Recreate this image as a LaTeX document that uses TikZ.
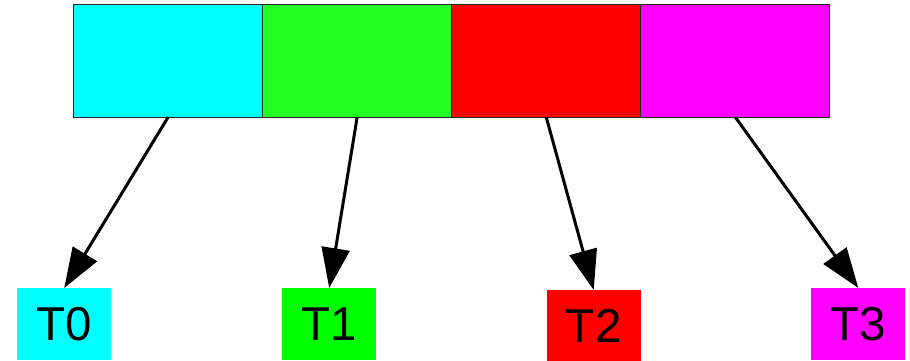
\documentclass[tikz,border=0pt]{standalone}
\usepackage{fontspec}
\setmainfont{Liberation Sans}
\usetikzlibrary{arrows.meta}
\definecolor{cellcyan}{HTML}{00FFFF}
\definecolor{cellgreen}{HTML}{22FF22}
\definecolor{cellred}{HTML}{FF0000}
\definecolor{cellmag}{HTML}{FF00FF}
\definecolor{boxgreen}{HTML}{00FF00}
\tikzset{
  cell/.style={draw=black!85, line width=0.9pt, minimum width=189pt, minimum height=113pt, inner sep=0pt, outer sep=0pt},
  tbox/.style={minimum width=94pt, minimum height=72pt, inner sep=0pt, outer sep=0pt, font=\fontsize{47.5}{56}\selectfont},
  conn/.style={line width=3pt, -{Triangle[length=40pt,width=28pt]}}
}
\begin{document}
\begin{tikzpicture}[x=1pt,y=-1pt]
\useasboundingbox (0,0) rectangle (910,361);
\node[cell, fill=cellcyan] (c0) at (168.2,60.5) {};
\node[cell, fill=cellgreen] (c1) at (357.2,60.5) {};
\node[cell, fill=cellred] (c2) at (546.2,60.5) {};
\node[cell, fill=cellmag] (c3) at (735.2,60.5) {};
\node[tbox, fill=cellcyan] (t0) at (64.2,324) {T0};
\node[tbox, fill=boxgreen] (t1) at (329.2,324) {T1};
\node[tbox, fill=cellred, minimum height=71pt] (t2) at (593.7,325.5) {T2};
\node[tbox, fill=cellmag] (t3) at (858.3,324) {T3};
\draw[conn] (c0.south) -- (t0.north);
\draw[conn] (c1.south) -- (t1.north);
\draw[conn] (c2.south) -- (t2.north);
\draw[conn] (c3.south) -- (t3.north);
\end{tikzpicture}
\end{document}
